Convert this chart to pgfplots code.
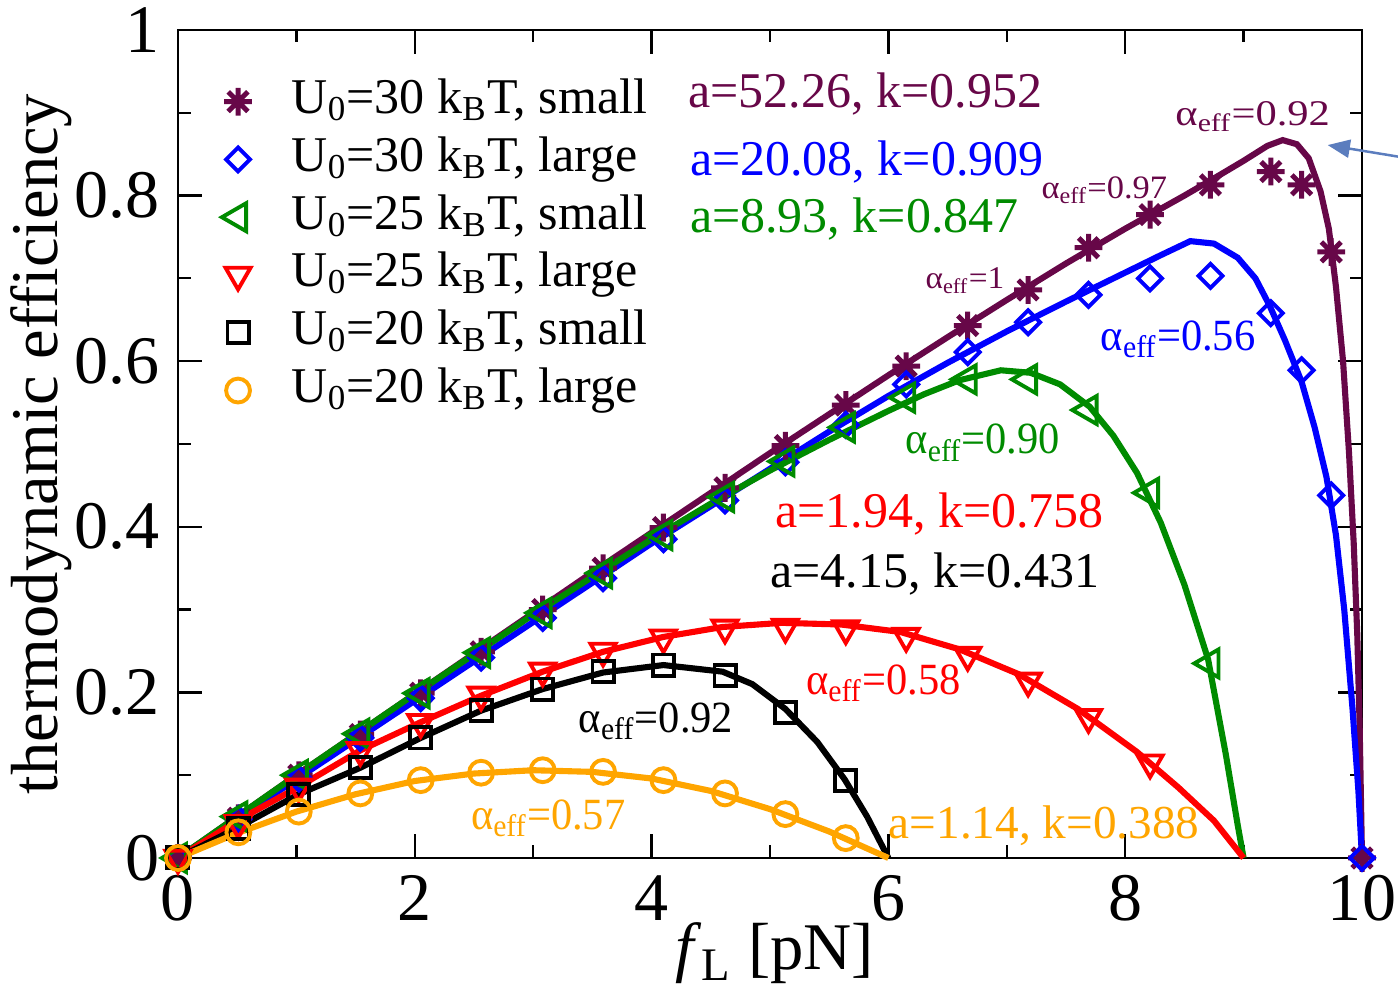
\documentclass[border=0pt]{standalone}
\usepackage{pgfplots}
\pgfplotsset{compat=1.18}
\usepackage{graphicx}
\usepackage{fontspec}
\setmainfont{Liberation Serif}
\newfontfamily\tnr{Liberation Serif}
\usetikzlibrary{arrows.meta}
\definecolor{cpurple}{RGB}{103,7,72}
\definecolor{cgreen}{RGB}{0,139,0}
\definecolor{corange}{RGB}{255,165,0}
\definecolor{carrow}{RGB}{91,125,190}
\pgfdeclareplotmark{star8}{%
 \pgfpathmoveto{\pgfqpoint{0pt}{\pgfplotmarksize}}\pgfpathlineto{\pgfqpoint{0pt}{-\pgfplotmarksize}}%
 \pgfpathmoveto{\pgfqpoint{\pgfplotmarksize}{0pt}}\pgfpathlineto{\pgfqpoint{-\pgfplotmarksize}{0pt}}%
 \pgfpathmoveto{\pgfqpoint{0.7071\pgfplotmarksize}{0.7071\pgfplotmarksize}}\pgfpathlineto{\pgfqpoint{-0.7071\pgfplotmarksize}{-0.7071\pgfplotmarksize}}%
 \pgfpathmoveto{\pgfqpoint{-0.7071\pgfplotmarksize}{0.7071\pgfplotmarksize}}\pgfpathlineto{\pgfqpoint{0.7071\pgfplotmarksize}{-0.7071\pgfplotmarksize}}%
 \pgfusepathqstroke}
\newcommand{\aeff}{α\textsubscript{eff}}
\newcommand{\alab}[3]{\scalebox{1}[#2]{\tnr\fontsize{#1}{18}\selectfont #3}}
\begin{document}
\begin{tikzpicture}
\begin{axis}[
 scale only axis, width=426.24pt, height=298.08pt,
 xmin=0, xmax=10, ymin=0, ymax=1, clip=false,
 xtick={0,2,...,10}, ytick={0,0.2,0.4,0.6,0.8,1},
 minor x tick num=1, minor y tick num=1,
 major tick length=8.5pt, minor tick length=4.5pt,
 tick align=inside, tick pos=both,
 axis line style={line width=0.8pt}, every tick/.style={line width=0.8pt, black},
 /pgf/number format/assume math mode=true,
 tick label style={font=\tnr\fontsize{24.5}{29}\selectfont},
 xticklabel style={inner sep=0pt, yshift=-6pt},
 yticklabel style={inner sep=0pt, xshift=-6.5pt},
 xlabel={\textit{f}\textsubscript{L} [pN]},
 xlabel style={font=\tnr\fontsize{24}{28}\selectfont, at={(axis description cs:0.504,-0.135)}, anchor=base},
 ylabel={thermodynamic efficiency},
 ylabel style={font=\tnr\fontsize{24}{28}\selectfont, at={(axis description cs:-0.1157,0.5)}, anchor=center},
 legend cell align=left,
 legend style={draw=none, fill=none, at={(axis cs:0.228,0.949)}, anchor=north west,
   inner xsep=3pt, inner ysep=0pt, row sep=0pt,
   font=\tnr\fontsize{18}{21}\selectfont,
   nodes={inner xsep=2pt, inner ysep=1.65pt, text height=13pt, text depth=4.5pt}},
 legend image code/.code={\draw[#1] plot coordinates {(8.5pt,0pt)}; \path (0pt,0pt) (25.6pt,0pt);},
 mcurve/.style={line width=2.2pt, mark=none},
 mmark/.style={only marks},
]
% purple
\addplot[cpurple, mcurve, forget plot] coordinates {
(0,0) (0.5,0.05) (1,0.1) (1.5,0.149) (2,0.198) (2.5,0.247) (3,0.296) (3.5,0.345) (4,0.393) (4.5,0.441) (5,0.489) (5.5,0.536) (6,0.583) (6.5,0.629) (7,0.674) (7.5,0.718) (8,0.76) (8.5,0.8) (8.8,0.825) (9,0.842) (9.2,0.86) (9.33,0.867) (9.45,0.862) (9.55,0.845) (9.65,0.805) (9.72,0.76) (9.78,0.69) (9.84,0.6) (9.89,0.49) (9.93,0.38) (9.96,0.27) (9.98,0.16) (10,0)};
\addplot[cpurple, mmark, mark=star8, mark size=5pt, mark options={solid, line width=1.8pt}] coordinates {
(0,0) (0.51,0.048) (1.02,0.100) (1.54,0.149) (2.05,0.199) (2.56,0.249) (3.08,0.300) (3.59,0.350) (4.10,0.399) (4.62,0.447) (5.13,0.498) (5.64,0.547) (6.15,0.594) (6.67,0.643) (7.18,0.686) (7.69,0.737) (8.21,0.777) (8.72,0.813) (9.23,0.829) (9.49,0.813) (9.74,0.732) (10,0)};
\addlegendentry{U\textsubscript{0}=30 k\textsubscript{B}T, small}
% blue
\addplot[blue, mcurve, forget plot] coordinates {
(0,0) (1,0.095) (2,0.19) (3,0.285) (4,0.38) (5,0.47) (5.5,0.515) (6,0.558) (6.5,0.598) (7,0.636) (7.5,0.672) (8,0.707) (8.3,0.728) (8.55,0.745) (8.75,0.742) (8.95,0.725) (9.1,0.7) (9.22,0.667) (9.35,0.625) (9.49,0.575) (9.6,0.52) (9.7,0.46) (9.78,0.39) (9.85,0.3) (9.92,0.18) (9.97,0.08) (10,0)};
\addplot[blue, mmark, mark=square, mark size=3.05pt, mark options={solid, line width=1.4pt, rotate=45}] coordinates {
(0,0) (0.51,0.047) (1.02,0.096) (1.54,0.145) (2.05,0.193) (2.56,0.242) (3.08,0.290) (3.59,0.338) (4.10,0.385) (4.62,0.432) (5.13,0.478) (5.64,0.523) (6.15,0.572) (6.67,0.611) (7.18,0.647) (7.69,0.680) (8.21,0.700) (8.72,0.703) (9.23,0.658) (9.49,0.589) (9.74,0.438) (10,0)};
\addlegendentry{U\textsubscript{0}=30 k\textsubscript{B}T, large}
% green
\addplot[cgreen, mcurve, forget plot] coordinates {
(0,0) (1,0.1) (2,0.198) (3,0.294) (4,0.385) (4.5,0.428) (5,0.468) (5.5,0.505) (6,0.54) (6.3,0.56) (6.6,0.577) (6.95,0.589) (7.2,0.586) (7.45,0.572) (7.7,0.545) (7.9,0.51) (8.1,0.465) (8.3,0.405) (8.5,0.33) (8.7,0.24) (8.85,0.125) (8.95,0.04) (9,0)};
\addplot[cgreen, mmark, mark=triangle, mark size=5.8pt, mark options={solid, line width=1.4pt, rotate=90}] coordinates {
(0,0) (0.51,0.050) (1.02,0.100) (1.54,0.150) (2.05,0.199) (2.56,0.248) (3.08,0.296) (3.59,0.344) (4.10,0.390) (4.62,0.436) (5.13,0.479) (5.64,0.520) (6.15,0.556) (6.67,0.578) (7.18,0.578) (7.69,0.541) (8.21,0.441) (8.72,0.235)};
\addlegendentry{U\textsubscript{0}=25 k\textsubscript{B}T, small}
% red
\addplot[red, mcurve, forget plot] coordinates {
(0,0) (0.5,0.045) (1.02,0.086) (1.54,0.13) (2.05,0.164) (2.56,0.196) (3.08,0.225) (3.59,0.249) (4.1,0.267) (4.6,0.279) (5.1,0.284) (5.6,0.282) (6.1,0.273) (6.6,0.252) (7.1,0.222) (7.6,0.18) (8.1,0.128) (8.45,0.085) (8.75,0.045) (9,0)};
\addplot[red, mmark, mark=triangle, mark size=5.2pt, mark options={solid, line width=1.4pt, rotate=180}] coordinates {
(0,0) (0.51,0.042) (1.02,0.086) (1.54,0.130) (2.05,0.164) (2.56,0.197) (3.08,0.226) (3.59,0.250) (4.10,0.266) (4.62,0.278) (5.13,0.279) (5.64,0.277) (6.15,0.268) (6.67,0.245) (7.18,0.214) (7.69,0.170) (8.21,0.115)};
\addlegendentry{U\textsubscript{0}=25 k\textsubscript{B}T, large}
% black
\addplot[black, mcurve, forget plot] coordinates {
(0,0) (0.51,0.037) (1.02,0.077) (1.54,0.109) (2.05,0.145) (2.56,0.178) (3.08,0.204) (3.59,0.224) (4.1,0.233) (4.6,0.225) (4.85,0.21) (5.13,0.18) (5.4,0.14) (5.63,0.095) (5.82,0.05) (6,0)};
\addplot[black, mmark, mark=square, mark size=3.8pt, mark options={solid, line width=1.4pt}] coordinates {
(0,0) (0.51,0.036) (1.02,0.077) (1.54,0.109) (2.05,0.145) (2.56,0.178) (3.08,0.204) (3.59,0.225) (4.10,0.233) (4.62,0.220) (5.13,0.176) (5.64,0.094)};
\addlegendentry{U\textsubscript{0}=20 k\textsubscript{B}T, small}
% orange
\addplot[corange, mcurve, forget plot] coordinates {
(0,0) (0.5,0.03) (1,0.056) (1.5,0.077) (2,0.093) (2.5,0.102) (3,0.106) (3.5,0.104) (4,0.096) (4.5,0.081) (5,0.059) (5.5,0.032) (6,0)};
\addplot[corange, mmark, mark=o, mark size=4.3pt, mark options={solid, line width=1.4pt}] coordinates {
(0,0) (0.51,0.031) (1.02,0.056) (1.54,0.078) (2.05,0.094) (2.56,0.103) (3.08,0.106) (3.59,0.104) (4.10,0.094) (4.62,0.078) (5.13,0.053) (5.64,0.024)};
\addlegendentry{U\textsubscript{0}=20 k\textsubscript{B}T, large}
% annotations
\begin{scope}[every node/.style={inner sep=0pt, anchor=base west, font=\tnr\fontsize{18}{21}\selectfont}]
\node[text=cpurple] at (axis cs:4.307,0.906) {a=52.26, k=0.952};
\node[text=blue] at (axis cs:4.32,0.824) {a=20.08, k=0.909};
\node[text=cgreen] at (axis cs:4.32,0.756) {a=8.93, k=0.847};
\node[text=red] at (axis cs:5.04,0.399) {a=1.94, k=0.758};
\node[text=black] at (axis cs:5.0,0.327) {a=4.15, k=0.431};
\node[text=corange] at (axis cs:6.0,0.024) {\tnr\fontsize{17}{20}\selectfont a=1.14, k=0.388};
\node[text=cpurple] at (axis cs:8.42,0.885) {\alab{15.3}{0.85}{\aeff=0.92}};
\node[text=cpurple] at (axis cs:7.29,0.797) {\alab{12.4}{0.95}{\aeff=0.97}};
\node[text=cpurple] at (axis cs:6.31,0.688) {\alab{12}{0.95}{\aeff=1}};
\node[text=blue] at (axis cs:7.79,0.613) {\alab{15.3}{1.05}{\aeff=0.56}};
\node[text=cgreen] at (axis cs:6.14,0.488) {\alab{15.3}{1.05}{\aeff=0.90}};
\node[text=red] at (axis cs:5.30,0.198) {\alab{15.3}{1.05}{\aeff=0.58}};
\node[text=black] at (axis cs:3.38,0.152) {\alab{15.3}{1.05}{\aeff=0.92}};
\node[text=corange] at (axis cs:2.47,0.035) {\alab{15.3}{1.05}{\aeff=0.57}};
\end{scope}
\draw[carrow, line width=0.9pt, -{Triangle[length=8pt,width=6.5pt]}] (axis cs:10.35,0.846) -- (axis cs:9.71,0.861);
\end{axis}
\pgfresetboundingbox
\path[use as bounding box] (-64.08pt,-48.6pt) rectangle (439.2pt,308.88pt);
\end{tikzpicture}
\end{document}
